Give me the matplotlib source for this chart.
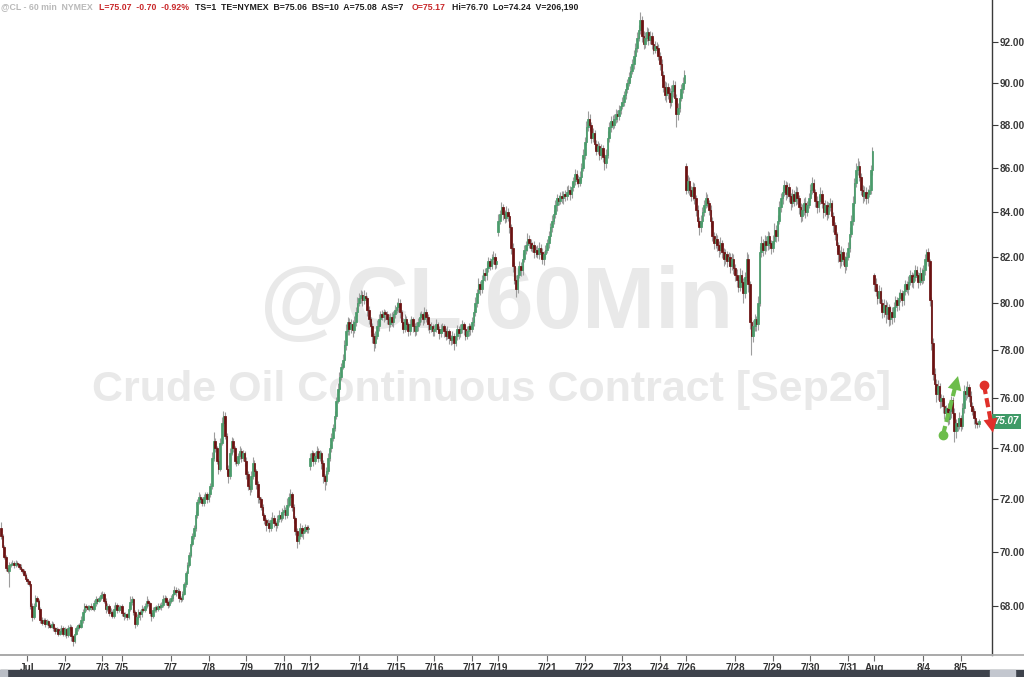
import numpy as np
import pandas as pd
import matplotlib
matplotlib.use("Agg")
import matplotlib.pyplot as plt
import matplotlib.ticker as mticker
import matplotlib.transforms as mtrans
from matplotlib.patches import Rectangle
from matplotlib.lines import Line2D

# ---------------- data (hourly closes, grouped by trading day) ----------------
close_by_day = [
    # Jun 30 (partial)
    [70.6, 70.2, 69.8, 69.4, 69.3, 69.5, 69.55, 69.6, 69.5, 69.6, 69.55, 69.45, 69.35, 69.3, 69.15, 69.0],
    # Jul 1
    [68.9, 68.8, 68.0, 67.6, 68.0, 68.3, 68.2, 67.9, 67.5, 67.4, 67.5, 67.35, 67.45, 67.3, 67.25, 67.35,
     67.2, 67.1, 67.15, 67.0, 67.1, 67.2, 67.0],
    # Jul 2
    [67.15, 66.95, 67.2, 67.25, 66.9, 66.75, 67.0, 67.2, 67.3, 67.25, 67.5, 67.8, 68.0, 67.95, 67.9, 68.0,
     67.95, 67.9, 68.1, 68.25, 68.2, 68.3, 68.4],
    # Jul 3 (holiday, short)
    [68.45, 68.2, 67.9, 68.0, 67.75, 67.8, 67.65, 67.9, 68.05, 67.85, 67.95, 68.0],
    # Jul 5 eve + Jul 6
    [67.75, 67.65, 67.7, 67.6, 67.9, 68.15, 68.25, 67.8, 67.35, 67.6, 67.8, 67.7, 67.9, 67.85, 68.0, 68.2,
     68.1, 67.75, 67.65, 67.85, 67.95, 67.9, 68.0, 67.95, 68.05, 68.25, 68.3, 68.15, 68.05, 68.2],
    # Jul 7
    [68.3, 68.45, 68.6, 68.5, 68.55, 68.3, 68.25, 68.45, 68.8, 69.2, 69.5, 69.9, 70.3, 70.6, 70.9, 71.4,
     71.9, 72.1, 72.0, 71.85, 72.1, 72.2, 72.0],
    # Jul 8
    [72.2, 72.5, 73.6, 74.3, 74.0, 73.5, 73.2, 74.2, 75.0, 75.3, 74.5, 73.2, 72.9, 73.8, 74.3, 74.0,
     73.5, 73.4, 73.7, 73.9, 73.6, 73.8, 73.5],
    # Jul 9
    [73.0, 72.5, 72.4, 72.9, 73.4, 73.1, 72.6, 72.1, 72.0, 71.7, 71.4, 71.2, 71.0, 71.1, 70.9, 71.2,
     71.3, 71.1, 71.0, 71.25, 71.4, 71.3, 71.5],
    # Jul 10
    [71.6, 71.4, 71.8, 72.1, 72.2, 71.7, 71.3, 70.8, 70.4, 70.6, 70.9, 70.7, 70.8, 70.95, 70.85, 70.9],
    # Jul 12 eve + Jul 13
    [73.6, 73.8, 73.5, 73.7, 73.9, 73.6, 73.8, 73.4, 72.9, 72.7, 73.1, 73.6, 74.0, 74.4, 74.8, 75.3,
     75.9, 76.4, 76.9, 77.3, 77.6, 78.2, 78.8, 79.2, 78.9, 79.1, 78.85, 79.2, 79.6, 80.0],
    # Jul 14
    [80.2, 80.35, 80.1, 80.3, 80.2, 79.7, 79.3, 79.0, 78.6, 78.3, 78.6, 79.0, 79.3, 79.5, 79.4, 79.6,
     79.5, 79.3, 79.1, 79.4, 79.2, 79.5, 79.7],
    # Jul 15
    [79.8, 80.0, 79.6, 79.2, 78.9, 79.3, 79.1, 78.8, 79.1, 79.3, 79.0, 78.8, 79.0, 79.2, 79.4, 79.5,
     79.3, 79.6, 79.4, 79.1, 78.9, 79.0, 78.8],
    # Jul 16
    [78.9, 79.1, 78.9, 78.7, 78.9, 79.0, 78.8, 78.6, 78.8, 78.5, 78.4, 78.6, 78.3, 78.6, 78.9, 78.7,
     78.9, 79.1, 78.9, 78.6, 78.8, 79.0, 78.9],
    # Jul 17
    [79.2, 79.6, 80.0, 80.4, 80.8, 80.6, 81.0, 81.3, 81.2, 81.5, 81.8, 81.6, 81.9, 82.0, 81.7, 81.8],
    # Jul 19 eve + Jul 20
    [83.6, 83.9, 84.2, 83.9, 83.7, 84.0, 83.8, 83.3, 82.4, 81.6, 81.0, 80.6, 81.2, 81.6, 81.4, 81.9,
     82.3, 82.5, 82.8, 82.6, 82.4, 82.5, 82.2, 82.3, 82.1, 82.4, 82.2, 81.9, 82.1, 82.3],
    # Jul 21
    [82.6, 82.9, 83.3, 83.6, 83.9, 84.3, 84.6, 84.5, 84.7, 84.6, 84.8, 84.7, 84.9, 85.0, 84.8, 85.1,
     85.4, 85.7, 85.5, 85.3, 85.6, 86.0, 86.6],
    # Jul 22
    [87.2, 87.9, 88.3, 88.0, 87.4, 87.6, 87.1, 86.8, 87.0, 86.6, 86.9, 86.5, 86.2, 86.6, 87.4, 87.9,
     88.2, 88.0, 88.3, 88.5, 88.4, 88.7, 88.9],
    # Jul 23
    [89.1, 89.4, 89.7, 90.0, 90.3, 90.6, 90.9, 91.3, 91.7, 92.2, 92.6, 93.1, 92.3, 91.9, 92.2, 92.5,
     92.1, 92.3, 91.9, 91.6, 91.8, 91.7, 91.3],
    # Jul 24
    [90.9, 90.4, 89.8, 89.4, 89.8, 89.5, 89.1, 89.6, 89.9, 89.3, 88.5, 88.8, 89.3, 89.7, 90.0, 90.4],
    # Jul 26 eve + Jul 27
    [85.0, 85.4, 85.0, 84.7, 85.1, 84.6, 84.1, 83.6, 83.3, 83.6, 84.0, 84.3, 84.6, 84.4, 84.1, 83.6,
     82.9, 82.6, 82.8, 82.5, 82.3, 82.6, 82.2, 81.9, 82.1, 81.8, 82.0, 81.6, 81.9, 81.5],
    # Jul 28
    [81.2, 81.0, 80.7, 81.2, 80.9, 80.4, 81.1, 81.9, 80.8, 79.2, 78.6, 79.0, 79.3, 79.1, 80.0, 82.2,
     82.6, 82.3, 82.7, 82.5, 82.9, 82.6, 82.4],
    # Jul 29
    [82.7, 83.2, 82.9, 83.6, 84.2, 84.6, 84.9, 85.2, 84.8, 85.1, 84.7, 84.4, 84.8, 84.5, 84.9, 84.6,
     84.2, 83.8, 84.1, 84.4, 84.0, 84.3, 84.6],
    # Jul 30
    [85.0, 85.3, 84.9, 84.5, 84.2, 84.5, 84.8, 84.4, 84.0, 84.3, 83.9, 84.2, 84.4, 83.8, 83.4, 83.0,
     82.5, 82.1, 81.8, 82.2, 81.9, 81.6, 82.0],
    # Jul 31
    [82.4, 83.0, 83.6, 84.4, 85.3, 85.9, 86.1, 85.6, 85.0, 84.7, 84.9, 84.6, 84.8, 85.0, 85.9, 86.8],
    # Aug 2 eve + Aug 3
    [80.8, 80.5, 80.2, 80.5, 80.0, 79.6, 79.9, 79.5, 79.8, 79.3, 79.6, 79.4, 79.8, 80.1, 79.9, 80.2,
     80.4, 80.1, 80.5, 80.8, 80.6, 80.9, 81.2, 80.9, 81.1, 81.4, 81.2, 80.9, 81.3, 81.0],
    # Aug 4
    [81.4, 81.9, 82.2, 81.8, 80.1, 78.3, 77.0, 76.6, 76.2, 76.5, 75.9, 76.0, 75.7, 75.4, 75.6, 75.17,
     75.5, 75.95, 75.4, 74.7, 75.0, 74.9, 75.2],
    # Aug 5 (partial)
    [74.9, 75.6, 76.3, 76.2, 76.45, 76.1, 75.7, 75.5, 75.2, 75.0, 74.95, 75.07],
]

# upper / lower wick lengths (cents) per bar
wick_up_by_day = [
    [25, 8, 6, 10, 5, 12, 6, 8, 5, 10, 6, 4, 8, 5, 6, 7],
    [6, 5, 8, 10, 12, 10, 8, 6, 5, 10, 8, 6, 9, 5, 7, 10, 6, 5, 8, 6, 10, 12, 6],
    [8, 6, 10, 8, 6, 5, 10, 8, 6, 10, 12, 8, 10, 6, 8, 5, 10, 8, 12, 10, 6, 8, 10],
    [10, 6, 8, 10, 6, 12, 5, 15, 8, 6, 8, 5],
    [8, 5, 10, 6, 12, 20, 10, 6, 5, 10, 8, 6, 12, 8, 10, 15, 6, 5, 8, 10, 6, 8, 10, 12, 8, 15, 10, 6, 8, 10],
    [10, 12, 15, 8, 10, 6, 5, 10, 8, 10, 12, 8, 10, 12, 10, 15, 12, 20, 10, 8, 12, 10, 8],
    [10, 15, 25, 35, 12, 10, 8, 20, 25, 20, 15, 10, 12, 20, 15, 10, 8, 15, 12, 20, 10, 15, 10],
    [15, 12, 10, 20, 25, 15, 10, 12, 8, 10, 12, 8, 10, 15, 10, 12, 20, 10, 8, 15, 20, 10, 15],
    [20, 10, 25, 15, 20, 10, 12, 8, 10, 15, 20, 10, 12, 10, 8, 10],
    [20, 15, 10, 15, 20, 10, 15, 10, 12, 10, 15, 20, 15, 20, 15, 20, 15, 25, 20, 15, 25, 20, 30, 20, 15, 20, 15, 25, 20, 25],
    [20, 20, 15, 25, 15, 10, 15, 10, 12, 10, 20, 25, 20, 15, 20, 15, 10, 15, 20, 15, 20, 15, 20],
    [25, 20, 15, 10, 15, 20, 12, 10, 20, 15, 10, 15, 20, 15, 20, 15, 10, 20, 15, 10, 12, 20, 10],
    [15, 20, 10, 12, 20, 15, 10, 12, 20, 10, 15, 20, 12, 20, 15, 10, 20, 15, 10, 15, 20, 15, 10],
    [20, 15, 25, 20, 25, 15, 20, 15, 20, 25, 20, 15, 20, 25, 15, 20],
    [30, 20, 25, 15, 20, 25, 15, 10, 15, 20, 15, 20, 25, 20, 15, 25, 20, 20, 25, 15, 20, 15, 20, 15, 20, 25, 15, 20, 15, 20],
    [20, 25, 20, 25, 20, 25, 20, 15, 20, 25, 15, 20, 25, 20, 15, 25, 20, 25, 20, 15, 25, 20, 25],
    [25, 30, 35, 20, 15, 25, 15, 20, 25, 15, 20, 15, 20, 25, 30, 25, 20, 25, 20, 25, 20, 25, 20],
    [25, 20, 25, 20, 25, 20, 25, 30, 25, 30, 25, 40, 20, 25, 30, 25, 20, 25, 20, 30, 25, 20, 20],
    [20, 25, 20, 30, 25, 20, 25, 30, 25, 20, 15, 25, 20, 25, 30, 25],
    [10, 25, 20, 15, 25, 20, 15, 20, 15, 25, 20, 25, 30, 20, 15, 20, 15, 20, 25, 15, 20, 25, 15, 20, 25, 15, 20, 15, 25, 20],
    [20, 25, 15, 30, 20, 15, 25, 30, 20, 15, 20, 25, 20, 15, 30, 25, 30, 20, 25, 20, 25, 20, 15],
    [25, 30, 20, 25, 30, 25, 20, 25, 20, 25, 20, 15, 25, 20, 25, 20, 15, 20, 25, 20, 25, 20, 25],
    [25, 30, 20, 15, 20, 25, 30, 20, 15, 25, 20, 25, 20, 15, 20, 15, 10, 15, 20, 25, 20, 15, 20],
    [25, 30, 25, 30, 25, 30, 35, 20, 15, 20, 25, 20, 25, 20, 25, 15],
    [10, 25, 20, 25, 20, 15, 25, 20, 25, 15, 25, 20, 25, 20, 15, 25, 20, 15, 25, 20, 15, 25, 20, 15, 20, 25, 20, 15, 25, 20],
    [25, 20, 15, 20, 10, 15, 20, 25, 20, 25, 15, 20, 15, 20, 15, 20, 25, 15, 10, 20, 15, 20, 25],
    [15, 20, 25, 20, 25, 15, 20, 15, 10, 15, 10, 8],
]
wick_dn_by_day = [
    [10, 8, 6, 12, 8, 60, 6, 5, 10, 8, 6, 10, 5, 8, 6, 10],
    [8, 6, 10, 15, 8, 6, 5, 10, 12, 8, 6, 10, 5, 8, 6, 5, 10, 12, 8, 10, 6, 8, 10],
    [8, 12, 6, 8, 15, 20, 8, 6, 10, 8, 6, 10, 8, 12, 6, 8, 10, 6, 8, 10, 12, 6, 8],
    [6, 10, 15, 8, 12, 6, 10, 8, 6, 12, 8, 10],
    [10, 15, 8, 10, 6, 8, 10, 12, 15, 8, 6, 20, 10, 8, 6, 8, 10, 12, 20, 8, 6, 10, 8, 6, 10, 8, 6, 10, 12, 8],
    [8, 10, 6, 12, 8, 15, 10, 8, 6, 10, 8, 6, 10, 8, 10, 12, 10, 8, 15, 12, 10, 8, 15],
    [12, 10, 8, 10, 15, 12, 20, 10, 8, 10, 15, 20, 25, 10, 8, 15, 12, 10, 8, 12, 15, 10, 20],
    [20, 15, 25, 10, 12, 15, 20, 25, 15, 12, 10, 15, 20, 10, 15, 12, 10, 15, 20, 10, 12, 15, 10],
    [10, 15, 12, 10, 8, 15, 20, 15, 25, 12, 10, 15, 20, 10, 15, 12],
    [15, 10, 20, 12, 10, 15, 12, 20, 25, 35, 15, 10, 12, 15, 10, 12, 15, 10, 12, 15, 10, 15, 20, 15, 25, 20, 30, 15, 20, 15],
    [15, 20, 25, 15, 20, 25, 20, 25, 30, 35, 20, 15, 20, 25, 15, 20, 25, 20, 30, 15, 20, 25, 15],
    [15, 20, 25, 30, 20, 15, 25, 20, 15, 20, 25, 20, 15, 20, 15, 20, 25, 15, 20, 25, 20, 15, 20],
    [20, 15, 20, 25, 15, 20, 25, 20, 15, 25, 20, 15, 30, 15, 20, 25, 15, 20, 25, 20, 15, 20, 25],
    [15, 20, 15, 20, 15, 25, 20, 15, 25, 20, 15, 20, 15, 20, 25, 20],
    [20, 15, 20, 25, 20, 15, 20, 25, 30, 25, 20, 35, 20, 15, 25, 20, 15, 20, 25, 20, 15, 20, 25, 20, 15, 20, 25, 20, 25, 15],
    [15, 20, 15, 20, 15, 20, 25, 20, 15, 20, 25, 20, 15, 20, 25, 20, 15, 20, 25, 20, 15, 20, 15],
    [20, 15, 20, 30, 25, 20, 25, 20, 15, 25, 20, 25, 30, 20, 15, 20, 25, 20, 15, 20, 25, 15, 20],
    [15, 20, 15, 20, 15, 20, 15, 20, 25, 20, 15, 20, 30, 25, 20, 15, 25, 20, 25, 20, 15, 25, 20],
    [25, 30, 25, 20, 30, 25, 30, 20, 25, 30, 60, 25, 20, 15, 20, 15],
    [20, 15, 25, 20, 15, 25, 30, 25, 35, 20, 15, 20, 15, 20, 25, 30, 20, 25, 20, 25, 30, 20, 25, 30, 20, 25, 20, 30, 20, 25],
    [25, 30, 25, 20, 30, 40, 20, 15, 35, 30, 80, 25, 20, 30, 25, 15, 20, 25, 20, 25, 20, 25, 30],
    [20, 15, 25, 20, 15, 20, 25, 20, 25, 20, 25, 30, 20, 25, 20, 25, 30, 25, 20, 25, 30, 20, 15],
    [15, 20, 25, 30, 25, 20, 15, 25, 30, 20, 25, 20, 15, 25, 30, 25, 30, 35, 30, 20, 25, 30, 20],
    [15, 20, 15, 20, 15, 20, 25, 20, 25, 30, 20, 25, 20, 15, 20, 25],
    [30, 20, 25, 20, 30, 25, 20, 35, 20, 30, 25, 30, 20, 15, 25, 20, 15, 25, 20, 15, 20, 25, 15, 20, 25, 15, 20, 25, 15, 20],
    [15, 20, 25, 20, 25, 30, 25, 30, 35, 25, 30, 25, 30, 25, 30, 25, 20, 30, 25, 46, 30, 20, 15],
    [20, 15, 20, 25, 20, 25, 20, 15, 25, 20, 15, 10],
]

first_open = 70.9
session_gap_opens = {189: 73.3, 304: 83.1, 419: 86.1, 534: 81.2}

tick_dates = ["2026-07-01", "2026-07-02", "2026-07-03", "2026-07-05", "2026-07-07", "2026-07-08",
              "2026-07-09", "2026-07-10", "2026-07-12", "2026-07-14", "2026-07-15", "2026-07-16",
              "2026-07-17", "2026-07-19", "2026-07-21", "2026-07-22", "2026-07-23", "2026-07-24",
              "2026-07-26", "2026-07-28", "2026-07-29", "2026-07-30", "2026-07-31", "2026-08-02",
              "2026-08-04", "2026-08-05"]
tick_labels = ["Jul", "7/2", "7/3", "7/5", "7/7", "7/8", "7/9", "7/10", "7/12", "7/14", "7/15", "7/16",
               "7/17", "7/19", "7/21", "7/22", "7/23", "7/24", "7/26", "7/28", "7/29", "7/30", "7/31",
               "Aug", "8/4", "8/5"]
price_ticks = [68, 70, 72, 74, 76, 78, 80, 82, 84, 86, 88, 90, 92]
last_price = 75.07

header_parts = [("@CL - 60 min  NYMEX", "#b9b9b9"),
                ("L=75.07  -0.70  -0.92%", "#c9282a"),
                ("TS=1  TE=NYMEX  B=75.06  BS=10  A=75.08  AS=7", "#1f1f1f"),
                ("O=75.17", "#c9282a"),
                ("Hi=76.70  Lo=74.24  V=206,190", "#1f1f1f")]
watermark_1 = "@CL 60Min"
watermark_2 = "Crude Oil Continuous Contract [Sep26]"

# annotation arrows: (bar index, price) start -> end
arrow_green = ((576.1, 74.53), (585.3, 76.92))
arrow_red = ((601.2, 76.55), (606.7, 74.62))

# ---------------- build bars ----------------
closes = np.array([v for d in close_by_day for v in d], dtype=float)
up = np.array([v for d in wick_up_by_day for v in d], dtype=float) / 100.0
dn = np.array([v for d in wick_dn_by_day for v in d], dtype=float) / 100.0
n = len(closes)
assert len(up) == n and len(dn) == n, (n, len(up), len(dn))

opens = np.concatenate([[first_open], closes[:-1]])
for k, v in session_gap_opens.items():
    opens[k] = v
highs = np.maximum(opens, closes) + up
lows = np.minimum(opens, closes) - dn

# trading-hour timeline (CME Globex hours, Central time)
rng = pd.date_range("2026-06-30 07:00", "2026-08-05 11:00", freq="h")
hol0, hol1 = pd.Timestamp("2026-07-03 12:00"), pd.Timestamp("2026-07-05 17:00")
def trading(t):
    if t.hour == 16:
        return False
    wd = t.weekday()
    if wd == 5 or (wd == 4 and t.hour >= 16) or (wd == 6 and t.hour < 17):
        return False
    if hol0 <= t < hol1:
        return False
    return True
times = [t for t in rng if trading(t)]
assert len(times) == n, (len(times), n)
dates = np.array([t.strftime("%Y-%m-%d") for t in times])
tick_pos = [int(np.argmax(dates == d)) for d in tick_dates]

# ---------------- figure ----------------
W, H = 1024, 677
fig = plt.figure(figsize=(W / 100, H / 100), dpi=100)
fig.patch.set_facecolor("white")
ax = fig.add_axes([0, 22 / H, 992 / W, 655 / H])
ax.set_yscale("log")
ax.set_ylim(66.238, 94.094)
ax.set_xlim(-0.61, 606.1)
ax.set_facecolor("white")

x = np.arange(n)
upc, dnc = "#4a9b6b", "#6b1212"
cols = np.where(closes >= opens, upc, dnc)
ax.vlines(x, lows, highs, color="#9d9d9d", lw=0.8, zorder=2)
body_lo = np.minimum(opens, closes)
body_h = np.abs(closes - opens)
ax.bar(x, body_h, bottom=body_lo, width=1.0, color=cols, edgecolor=cols, linewidth=0.55, zorder=3)

# watermark
ax.text(497 / W, 1 - 305 / H, watermark_1, transform=fig.transFigure, ha="center", va="center",
        fontsize=63, fontweight="bold", color="#e9e9e9", family="Liberation Sans", zorder=0.5)
ax.text(492 / W, 1 - 390 / H, watermark_2, transform=fig.transFigure, ha="center", va="center",
        fontsize=31, fontweight="bold", color="#e9e9e9", family="Liberation Sans", zorder=0.5)

# axes styling
for s in ["top", "left"]:
    ax.spines[s].set_visible(False)
ax.spines["right"].set_color("#3a3a3a")
ax.spines["right"].set_linewidth(1.0)
ax.spines["bottom"].set_color("#a9a9a9")
ax.spines["bottom"].set_linewidth(1.2)

ax.yaxis.tick_right()
ax.yaxis.set_minor_locator(mticker.NullLocator())
ax.yaxis.set_minor_formatter(mticker.NullFormatter())
ax.set_yticks(price_ticks)
ax.set_yticklabels([f"{p:.2f}" for p in price_ticks])
ax.tick_params(axis="y", direction="out", length=4, width=0.8, colors="#3a3a3a", labelsize=7.2, pad=1.5)
ax.set_xticks(tick_pos)
ax.set_xticklabels(tick_labels)
ax.tick_params(axis="x", direction="out", length=4, width=0.8, colors="#6a6a6a", labelsize=7.2, pad=1.5,
               labelcolor="#333333")
for lab in ax.get_yticklabels() + ax.get_xticklabels():
    lab.set_fontweight("bold")
    lab.set_family("Liberation Sans")

# last price tag
blend = mtrans.blended_transform_factory(ax.transAxes, ax.transData)
ax.text(1.002, last_price, f"{last_price:.2f}", transform=blend, ha="left", va="center", color="white",
        fontsize=7, fontweight="bold", fontstyle="italic", family="Liberation Sans", clip_on=False,
        zorder=6, bbox=dict(boxstyle="square,pad=0.25", fc="#3f9a67", ec="none"))

# dashed arrows
def dashed_arrow(start, end, color):
    (x0, y0), (x1, y1) = start, end
    f = 0.8
    xm = x0 + (x1 - x0) * f
    ym = y0 * (y1 / y0) ** f
    ax.plot([x0, xm], [y0, ym], color=color, lw=3.0, ls=(0, (2.2, 1.0)), clip_on=False, zorder=7,
            solid_capstyle="butt", dash_capstyle="butt")
    ax.plot([x0], [y0], "o", ms=6, color=color, clip_on=False, zorder=7)
    ax.annotate("", xy=(x1, y1), xytext=(xm, ym),
                arrowprops=dict(arrowstyle="-|>,head_length=1.0,head_width=0.5", mutation_scale=10,
                                color=color, lw=0, shrinkA=0, shrinkB=0),
                annotation_clip=False, zorder=7)

dashed_arrow(arrow_green[0], arrow_green[1], "#6cbd4b")
dashed_arrow(arrow_red[0], arrow_red[1], "#e0302a")

# bottom band and baseline across full width
fig.add_artist(Line2D([0, 1], [22 / H, 22 / H], color="#a9a9a9", lw=1.2, transform=fig.transFigure))
fig.add_artist(Rectangle((0, 0), 1, 7 / H, transform=fig.transFigure, color="#3e434c", zorder=5))
fig.add_artist(Rectangle((0, 0), 7 / W, 7 / H, transform=fig.transFigure, color="#b9bdc5", zorder=6))
fig.add_artist(Rectangle((990 / W, 0), 25 / W, 7 / H, transform=fig.transFigure, color="#c3c7cf", zorder=6))

# header
renderer = fig.canvas.get_renderer()
x_px = 1.0
gaps = [6, 6, 9, 6, 0]
for (txt, col), g in zip(header_parts, gaps):
    t = fig.text(x_px / W, 1 - 7 / H, txt, color=col, fontsize=6.3, fontweight="bold",
                 family="Liberation Sans", va="center", ha="left")
    bb = t.get_window_extent(renderer)
    x_px = bb.x1 + g

fig.savefig("out.png", dpi=100, facecolor="white")
